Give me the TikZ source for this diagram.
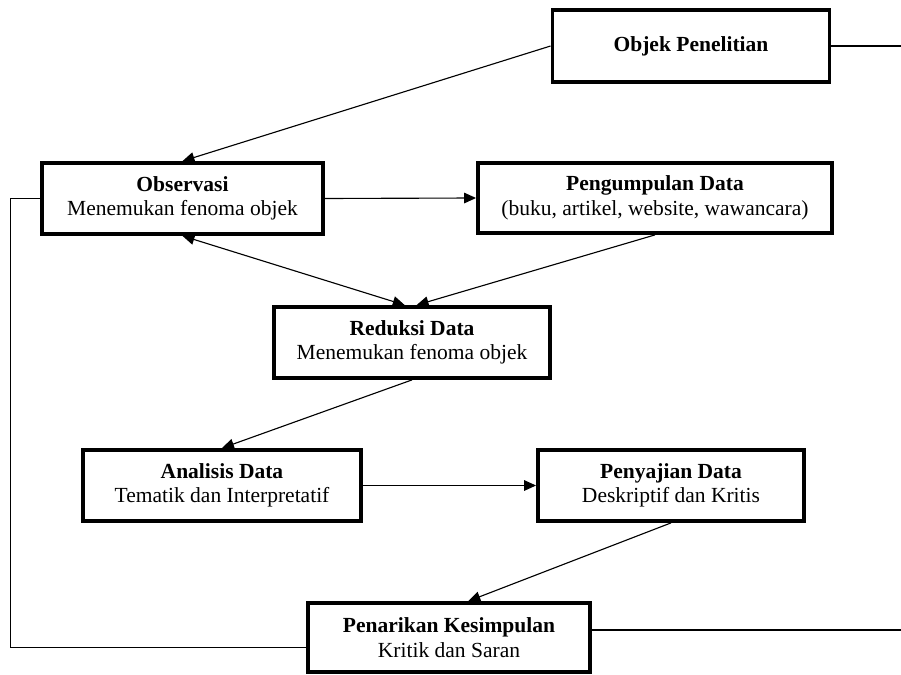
\documentclass[tikz,border=0pt]{standalone}
\usepackage{fontspec}
\setmainfont{Liberation Serif}
\usetikzlibrary{arrows.meta,positioning}

\begin{document}
\begin{tikzpicture}[x=0.025cm,y=-0.025cm,
  box/.style={draw, line width=2.7pt, align=center, inner sep=2pt,
    font=\fontsize{15.3}{17.5}\selectfont},
  link/.style={line width=0.8pt, -{Triangle[length=8.5pt,width=7.5pt]}},
  plain/.style={line width=0.8pt}]
\useasboundingbox (0,0) rectangle (901,675);
\coordinate (rightedge) at (901,0);
% Boxes
\node[box, minimum width=6.925cm, minimum height=1.8cm] (objek) at (691,46) {\textbf{Objek Penelitian}};
\node[box, minimum width=7.025cm, minimum height=1.775cm] (obs) at (182.5,198.5) {\textbf{Observasi}\\Menemukan fenoma objek};
\node[box, minimum width=8.85cm, minimum height=1.75cm] (kumpul) at (655,198) {\textbf{Pengumpulan Data}\\(buku, artikel, website, wawancara)};
\node[box, minimum width=6.9cm, minimum height=1.775cm] (reduksi) at (412,342.5) {\textbf{Reduksi Data}\\Menemukan fenoma objek};
\node[box, minimum width=6.95cm, minimum height=1.775cm] (analisis) at (222,485.5) {\textbf{Analisis Data}\\Tematik dan Interpretatif};
\node[box, minimum width=6.65cm, minimum height=1.775cm] (sajian) at (671,485.5) {\textbf{Penyajian Data}\\Deskriptif dan Kritis};
\node[box, minimum width=7.05cm, minimum height=1.725cm] (tarik) at (449,637.5) {\textbf{Penarikan Kesimpulan}\\Kritik dan Saran};
% Arrows
\draw[link] (objek.west) -- (obs.north);
\draw[link] (obs.east) -- (kumpul.west);
\draw[link, {Triangle[length=8.5pt,width=7.5pt]}-{Triangle[length=8.5pt,width=7.5pt]}] (obs.south) -- (reduksi.101);
\draw[link] (kumpul.south) -- (reduksi.83);
\draw[link] (reduksi.south) -- (analisis.north);
\draw[link] (analisis.east) -- (sajian.west);
\draw[link] (sajian.south) -- (tarik.62);
% Feedback lines
\draw[plain] (obs.west) -- ++(-30,0) |- (tarik.184);
\draw[plain] (tarik.3) -- (tarik.3 -| rightedge);
\draw[plain] (objek.east) -- (objek.east -| rightedge);
\end{tikzpicture}
\end{document}
